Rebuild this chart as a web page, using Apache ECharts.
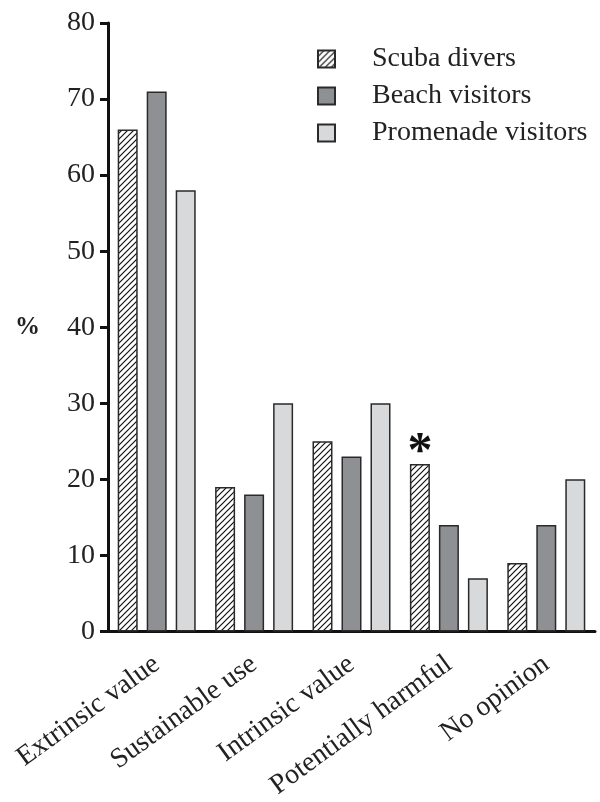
<!DOCTYPE html>
<html>
<head>
<meta charset="utf-8">
<script src="https://cdn.jsdelivr.net/npm/echarts@6/dist/echarts.min.js"></script>
<style>
  html, body { margin: 0; padding: 0; background: #fff; }
  #chart { width: 600px; height: 802px; }
</style>
</head>
<body>
<div id="chart"></div>
<script>
// Attitude categories and the share (%) of each respondent group
const categories = ['Extrinsic value', 'Sustainable use', 'Intrinsic value', 'Potentially harmful', 'No opinion'];
const scubaDivers = [66, 19, 25, 22, 9];
const beachVisitors = [71, 18, 23, 14, 14];
const promenadeVisitors = [58, 30, 30, 7, 20];
// Index of the category marked as significantly different for scuba divers
const significantIndex = 3;

const FONT = '"Liberation Serif", "DejaVu Serif", serif';

// Diagonal hatch tile for the scuba divers bars
function hatchPattern() {
  const size = 6;
  const c = document.createElement('canvas');
  c.width = size; c.height = size;
  const g = c.getContext('2d');
  g.fillStyle = '#fff';
  g.fillRect(0, 0, size, size);
  g.strokeStyle = '#111';
  g.lineWidth = 1.2;
  g.beginPath();
  g.moveTo(-1, size + 1); g.lineTo(size + 1, -1);
  g.moveTo(-1, 1); g.lineTo(1, -1);
  g.moveTo(size - 1, size + 1); g.lineTo(size + 1, size - 1);
  g.stroke();
  return { image: c, repeat: 'repeat' };
}

const chart = echarts.init(document.getElementById('chart'), null, { renderer: 'canvas' });

const baseBar = {
  type: 'bar',
  barWidth: 20,
  barGap: '45%'
};

chart.setOption({
  animation: false,
  backgroundColor: '#fff',
  textStyle: { fontFamily: FONT },
  grid: { left: 108, right: 5, top: 23, bottom: 168 },
  legend: {
    orient: 'vertical',
    left: 317,
    top: 45,
    padding: 0,
    icon: 'rect',
    itemWidth: 17,
    itemHeight: 17,
    itemGap: 9,
    selectedMode: false,
    textStyle: { fontFamily: FONT, fontSize: 28, color: '#222', padding: [0, 0, 0, 32] },
    data: ['Scuba divers', 'Beach visitors', 'Promenade visitors']
  },
  xAxis: {
    type: 'category',
    data: categories,
    axisLine: { lineStyle: { color: '#111', width: 3 } },
    axisTick: { alignWithLabel: true, length: 9, lineStyle: { color: '#111', width: 3 } },
    axisLabel: {
      rotate: 36,
      margin: 30,
      fontFamily: FONT,
      fontSize: 28,
      color: '#222',
      interval: 0
    }
  },
  yAxis: {
    type: 'value',
    min: 0,
    max: 80,
    interval: 10,
    name: '%',
    nameLocation: 'middle',
    nameRotate: 0,
    nameGap: 68,
    nameTextStyle: { fontFamily: FONT, fontSize: 25, fontWeight: 'bold', color: '#222' },
    splitLine: { show: false },
    axisLine: { show: true, lineStyle: { color: '#111', width: 3 } },
    axisTick: { show: true, length: 8, lineStyle: { color: '#111', width: 3 } },
    axisLabel: { fontFamily: FONT, fontSize: 28, color: '#222', margin: 13 }
  },
  series: [
    Object.assign({}, baseBar, {
      name: 'Scuba divers',
      itemStyle: { color: hatchPattern(), borderColor: '#2a2a2a', borderWidth: 1.5 },
      data: scubaDivers.map((v, i) => i === significantIndex
        ? { value: v, label: { show: true, position: 'top', formatter: '*', fontSize: 50, fontWeight: 'bold', fontFamily: FONT, color: '#111', distance: -14 } }
        : v)
    }),
    Object.assign({}, baseBar, {
      name: 'Beach visitors',
      itemStyle: { color: '#8f9094', borderColor: '#2a2a2a', borderWidth: 1.5 },
      data: beachVisitors
    }),
    Object.assign({}, baseBar, {
      name: 'Promenade visitors',
      itemStyle: { color: '#d8d9db', borderColor: '#2a2a2a', borderWidth: 1.5 },
      data: promenadeVisitors
    })
  ]
});
</script>
</body>
</html>
